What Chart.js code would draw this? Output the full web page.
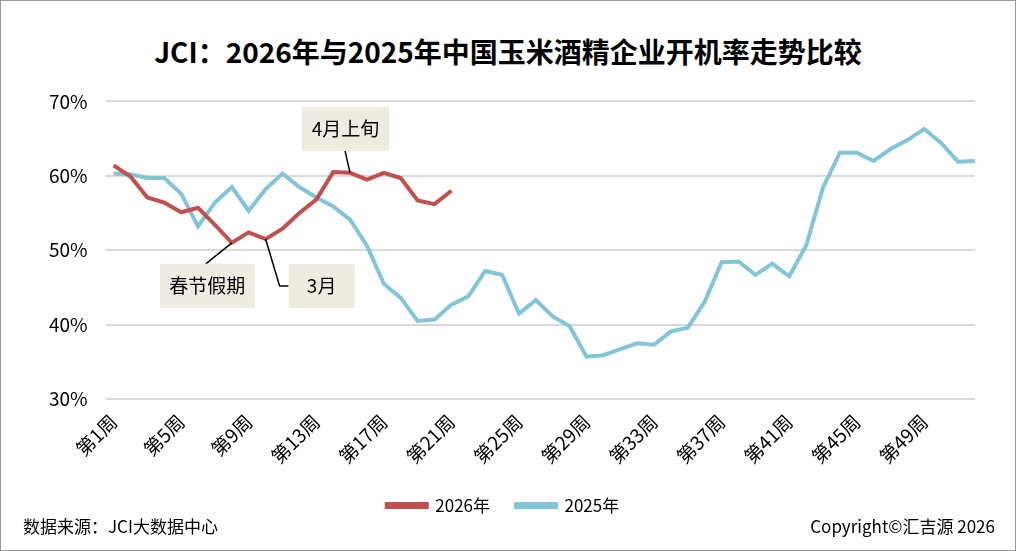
<!DOCTYPE html>
<html>
<head>
<meta charset="utf-8">
<script src="https://cdn.jsdelivr.net/npm/chart.js@4.4.1/dist/chart.umd.min.js"></script>
<style>
  html, body { margin: 0; padding: 0; background: #fff; }
  #wrap { position: relative; width: 1014px; height: 549px; border: 1px solid #999; font-family: "Noto Sans CJK SC", sans-serif; }
  #title { position: absolute; top: 30px; width: 100%; text-align: center; font-size: 28px; font-weight: bold; color: #000; }
  #chartBox { position: absolute; left: 0; top: 71px; width: 1014px; height: 452px; }
  .foot { position: absolute; bottom: 12px; font-size: 17px; color: #000; }
</style>
</head>
<body>
<div id="wrap">
  <div id="title">JCI：2026年与2025年中国玉米酒精企业开机率走势比较</div>
  <div id="chartBox"><canvas id="c"></canvas></div>
  <div class="foot" style="left:22px;">数据来源：JCI大数据中心</div>
  <div class="foot" style="right:20px;">Copyright©汇吉源 2026</div>
</div>
<script>
const weeks = Array.from({ length: 52 }, (_, i) => '第' + (i + 1) + '周');

const data2026 = [61.4, 59.9, 57.1, 56.4, 55.1, 55.7, 53.4, 51.0, 52.4, 51.5,
  52.9, 55.0, 56.8, 60.5, 60.4, 59.5, 60.4, 59.7, 56.7, 56.2, 58.0];

const data2025 = [60.3, 60.2, 59.7, 59.7, 57.6, 53.2, 56.4, 58.5, 55.3, 58.2,
  60.3, 58.5, 57.1, 55.9, 54.1, 50.6, 45.5, 43.6, 40.5, 40.7,
  42.7, 43.8, 47.2, 46.7, 41.5, 43.3, 41.1, 39.8, 35.7, 35.9,
  36.7, 37.5, 37.3, 39.1, 39.6, 43.1, 48.4, 48.5, 46.7, 48.2,
  46.5, 50.6, 58.4, 63.1, 63.1, 62.0, 63.6, 64.8, 66.3, 64.4,
  61.9, 62.0];

// 标注: 文字, 对应2026年的周序号(0起), 方框位置(相对数据点偏移)
const notes = [
  { text: '4月上旬', idx: 14, dx: -48, dy: -66, w: 87, h: 44, path: [[-5, -22]] },
  { text: '春节假期', idx: 7, dx: -72, dy: 21, w: 95, h: 44, path: [[-26, 21]] },
  { text: '3月', idx: 9, dx: 23, dy: 25, w: 66, h: 44, path: [[14, 47], [23, 47]] }
];

const notePlugin = {
  id: 'notes',
  afterDatasetsDraw(chart) {
    const ctx = chart.ctx;
    const meta = chart.getDatasetMeta(0);
    ctx.save();
    notes.forEach(n => {
      const p = meta.data[n.idx];
      ctx.strokeStyle = '#000';
      ctx.lineWidth = 1.5;
      ctx.beginPath();
      ctx.moveTo(p.x, p.y);
      n.path.forEach(q => ctx.lineTo(p.x + q[0], p.y + q[1]));
      ctx.stroke();
      ctx.fillStyle = '#eeebe0';
      ctx.fillRect(p.x + n.dx, p.y + n.dy, n.w, n.h);
      ctx.fillStyle = '#000';
      ctx.font = '19px "Noto Sans CJK SC"';
      ctx.textAlign = 'center';
      ctx.textBaseline = 'middle';
      ctx.fillText(n.text, p.x + n.dx + n.w / 2, p.y + n.dy + n.h / 2);
    });
    ctx.restore();
  }
};

new Chart(document.getElementById('c'), {
  type: 'line',
  data: {
    labels: weeks,
    datasets: [
      { label: '2026年', data: data2026, borderColor: '#c0504d', backgroundColor: '#c0504d',
        borderWidth: 4, pointRadius: 0, tension: 0 },
      { label: '2025年', data: data2025, borderColor: '#83c5d8', backgroundColor: '#83c5d8',
        borderWidth: 4, pointRadius: 0, tension: 0 }
    ]
  },
  options: {
    responsive: true,
    maintainAspectRatio: false,
    animation: false,
    layout: { padding: { left: 30, right: 40, top: 10, bottom: 0 } },
    plugins: {
      legend: {
        position: 'bottom',
        labels: { boxWidth: 40, boxHeight: 3, font: { size: 17, family: '"Noto Sans CJK SC"' }, color: '#000', padding: 26 }
      },
      tooltip: { enabled: false }
    },
    scales: {
      x: {
        offset: false,
        grid: { display: false },
        border: { display: false },
        ticks: {
          autoSkip: false, maxRotation: 45, minRotation: 45, color: '#000',
          font: { size: 19, family: '"Noto Sans CJK SC"' },
          callback: function (v, i) { return i % 4 === 0 && i < 49 ? weeks[i] : ''; }
        }
      },
      y: {
        min: 30, max: 70,
        grid: { color: '#d9d9d9', lineWidth: 2 },
        border: { display: false },
        ticks: { stepSize: 10, color: '#000', padding: 18, font: { size: 19, family: '"Noto Sans CJK SC"' },
          callback: v => v + '%' }
      }
    }
  },
  plugins: [notePlugin]
});
</script>
</body>
</html>
